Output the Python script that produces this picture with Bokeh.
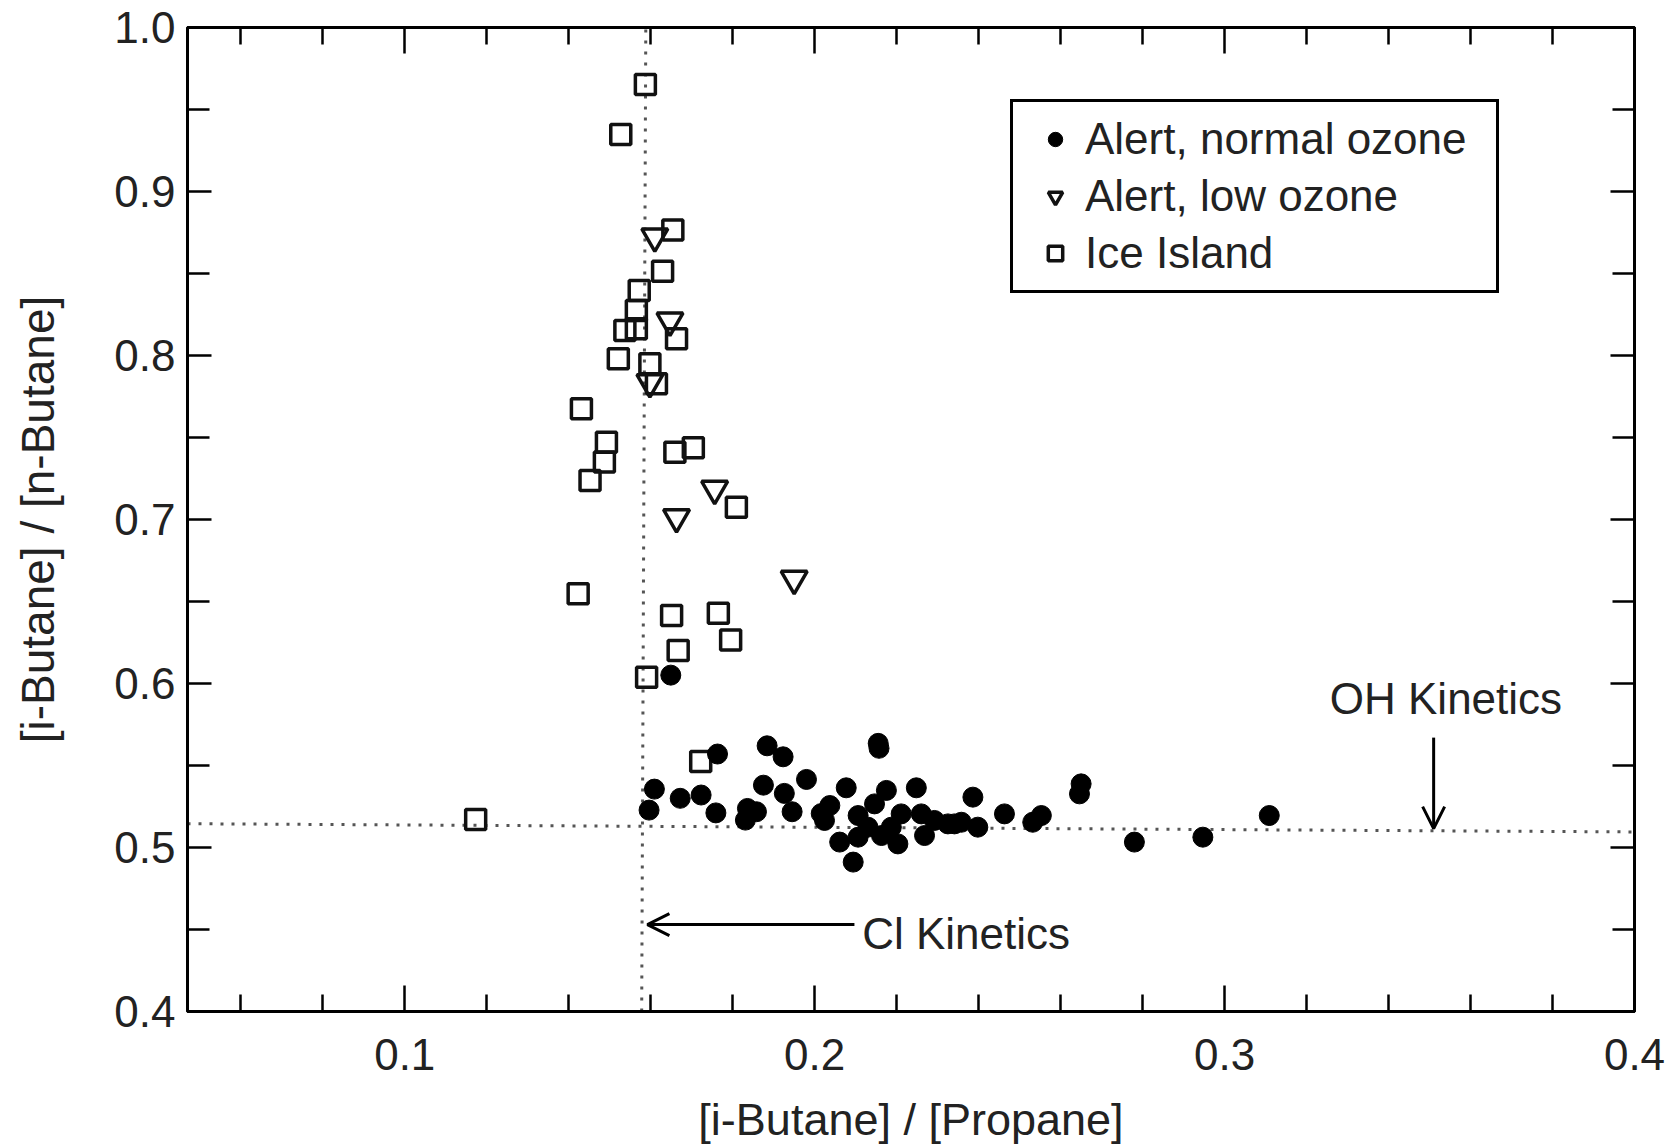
from bokeh.plotting import figure
from bokeh.models import (Range1d, LinearAxis, FixedTicker, NumeralTickFormatter,
                          CustomJSTickFormatter, Legend, LegendItem, Arrow, OpenHead, Label)
from bokeh.embed import file_html
from bokeh.resources import INLINE

# ---------------- data ----------------
normal_x = [0.1649, 0.1763, 0.1884, 0.1923, 0.2155, 0.2157, 0.1609, 0.1672, 0.1723, 0.1596,
            0.1759, 0.1875, 0.1926, 0.1980, 0.1945, 0.1836, 0.1858, 0.1831, 0.2077, 0.2175,
            0.2248, 0.2037, 0.2024, 0.2016, 0.2146, 0.2106, 0.2061, 0.2094, 0.2203, 0.2163,
            0.2130, 0.2211, 0.2260, 0.2268, 0.2292, 0.2341, 0.2106, 0.2187, 0.2325, 0.2386,
            0.2398, 0.2358, 0.2463, 0.2532, 0.2553, 0.2650, 0.2646, 0.2780, 0.2947, 0.3109]
normal_y = [0.6051, 0.5570, 0.5620, 0.5553, 0.5635, 0.5605, 0.5356, 0.5300, 0.5320, 0.5228,
            0.5211, 0.5380, 0.5330, 0.5415, 0.5218, 0.5238, 0.5218, 0.5167, 0.5364, 0.5348,
            0.5364, 0.5256, 0.5165, 0.5207, 0.5266, 0.5195, 0.5033, 0.4911, 0.5022, 0.5073,
            0.5124, 0.5205, 0.5205, 0.5073, 0.5165, 0.5144, 0.5063, 0.5124, 0.5144, 0.5307,
            0.5124, 0.5154, 0.5205, 0.5154, 0.5195, 0.5388, 0.5327, 0.5033, 0.5063, 0.5195]

low_x = [0.1610, 0.1647, 0.1598, 0.1756, 0.1663, 0.1950]
low_y = [0.8726, 0.8213, 0.7837, 0.7187, 0.7014, 0.6638]

ice_x = [0.1587, 0.1527, 0.1654, 0.1629, 0.1572, 0.1565, 0.1537, 0.1565, 0.1663, 0.1521,
         0.1598, 0.1614, 0.1431, 0.1492, 0.1487, 0.1452, 0.1659, 0.1704, 0.1809, 0.1423,
         0.1651, 0.1765, 0.1667, 0.1795, 0.1590, 0.1722, 0.1173]
ice_y = [0.9653, 0.9348, 0.8765, 0.8513, 0.8396, 0.8274, 0.8152, 0.8163, 0.8102, 0.7980,
         0.7949, 0.7827, 0.7675, 0.7471, 0.7350, 0.7238, 0.7410, 0.7437, 0.7075, 0.6547,
         0.6415, 0.6429, 0.6201, 0.6266, 0.6038, 0.5525, 0.5170]

# reference kinetics lines
cl_line_x = [0.1578, 0.1588]
cl_line_y = [0.4, 1.0]
oh_line_x = [0.047, 0.4]
oh_line_y = [0.5145, 0.5095]

x_ticks = [0.1, 0.2, 0.3, 0.4]
x_minor = [0.06, 0.08, 0.12, 0.14, 0.16, 0.18, 0.22, 0.24, 0.26, 0.28,
           0.32, 0.34, 0.36, 0.38]
y_ticks = [0.4, 0.5, 0.6, 0.7, 0.8, 0.9, 1.0]
y_minor = [0.45, 0.55, 0.65, 0.75, 0.85, 0.95]

series_labels = ["Alert, normal ozone", "Alert, low ozone", "Ice Island"]
x_title = "[i-Butane] / [Propane]"
y_title = "[i-Butane] / [n-Butane]"

FONT = "Liberation Sans"

# ---------------- figure ----------------
p = figure(width=1666, height=1147,
           x_range=Range1d(0.047, 0.4), y_range=Range1d(0.4, 1.0),
           output_backend="svg", toolbar_location=None,
           min_border_left=187, min_border_right=32,
           min_border_top=27, min_border_bottom=134)
p.grid.visible = False
p.outline_line_color = "black"
p.outline_line_width = 3
p.background_fill_color = "white"
p.border_fill_color = "white"


def style_axis(ax, ticks, minor, major_len, minor_len, labels=True):
    ax.ticker = FixedTicker(ticks=ticks, minor_ticks=minor)
    ax.axis_line_color = "black"
    ax.axis_line_width = 3
    ax.major_tick_in = major_len
    ax.major_tick_out = 0
    ax.minor_tick_in = minor_len
    ax.minor_tick_out = 0
    ax.major_tick_line_width = 2.5
    ax.minor_tick_line_width = 2.5
    ax.major_tick_line_color = "black"
    ax.minor_tick_line_color = "black"
    if labels:
        ax.formatter = NumeralTickFormatter(format="0.0")
        ax.major_label_text_font = FONT
        ax.major_label_text_font_size = "44px"
        ax.major_label_text_color = "#222222"
        ax.axis_label_text_font = FONT
        ax.axis_label_text_font_style = "normal"
        ax.axis_label_text_color = "#222222"
    else:
        ax.formatter = CustomJSTickFormatter(code="return '';")


xa = p.xaxis[0]
ya = p.yaxis[0]
style_axis(xa, x_ticks, x_minor, 26, 17)
style_axis(ya, y_ticks, y_minor, 24, 22)
xa.axis_label = x_title
ya.axis_label = y_title
xa.axis_label_text_font_size = "45px"
ya.axis_label_text_font_size = "46px"
xa.major_label_standoff = 27
ya.major_label_standoff = 12
xa.axis_label_standoff = 21
ya.axis_label_standoff = 47

top_ax = LinearAxis()
style_axis(top_ax, x_ticks, x_minor, 26, 17, labels=False)
p.add_layout(top_ax, "above")
right_ax = LinearAxis()
style_axis(right_ax, y_ticks, y_minor, 24, 22, labels=False)
p.add_layout(right_ax, "right")

# reference lines
p.line(cl_line_x, cl_line_y, line_color="#555555", line_width=3, line_dash="3 8")
p.line(oh_line_x, oh_line_y, line_color="#555555", line_width=3, line_dash="3 8")

# data
r_ice = p.scatter(ice_x, ice_y, marker="square", size=20, fill_color=None,
                  line_color="#111111", line_width=3.5)
r_low = p.scatter(low_x, low_y, marker="inverted_triangle", size=26, fill_color=None,
                  line_color="#111111", line_width=3.5)
r_norm = p.scatter(normal_x, normal_y, marker="circle", size=20, fill_color="black",
                   line_color="black", line_width=1)

# annotations
p.add_layout(Arrow(end=OpenHead(size=22, line_width=3, line_color="black"),
                   x_start=0.351, y_start=0.567, x_end=0.351, y_end=0.5115,
                   line_width=3, line_color="black"))
p.add_layout(Label(x=0.354, y=0.591, text="OH Kinetics", text_align="center",
                   text_baseline="middle", text_font=FONT, text_font_size="44px",
                   text_color="#222222"))
p.add_layout(Arrow(end=OpenHead(size=22, line_width=3, line_color="black"),
                   x_start=0.2097, y_start=0.453, x_end=0.1592, y_end=0.453,
                   line_width=3, line_color="black"))
p.add_layout(Label(x=0.2116, y=0.4476, text="Cl Kinetics", text_align="left",
                   text_baseline="middle", text_font=FONT, text_font_size="44px",
                   text_color="#222222"))

legend = Legend(items=[LegendItem(label=series_labels[0], renderers=[r_norm]),
                       LegendItem(label=series_labels[1], renderers=[r_low]),
                       LegendItem(label=series_labels[2], renderers=[r_ice])],
                location=(823, 718), orientation="vertical",
                padding=12, spacing=7, margin=0,
                glyph_width=60, glyph_height=36, label_standoff=0,
                label_width=399,
                label_text_font=FONT, label_text_font_size="44px",
                label_text_color="#222222",
                border_line_color="black", border_line_width=3, border_line_alpha=1.0,
                background_fill_color="white", background_fill_alpha=1.0)
p.add_layout(legend, "center")

open("out.html", "w").write(file_html(p, INLINE))
